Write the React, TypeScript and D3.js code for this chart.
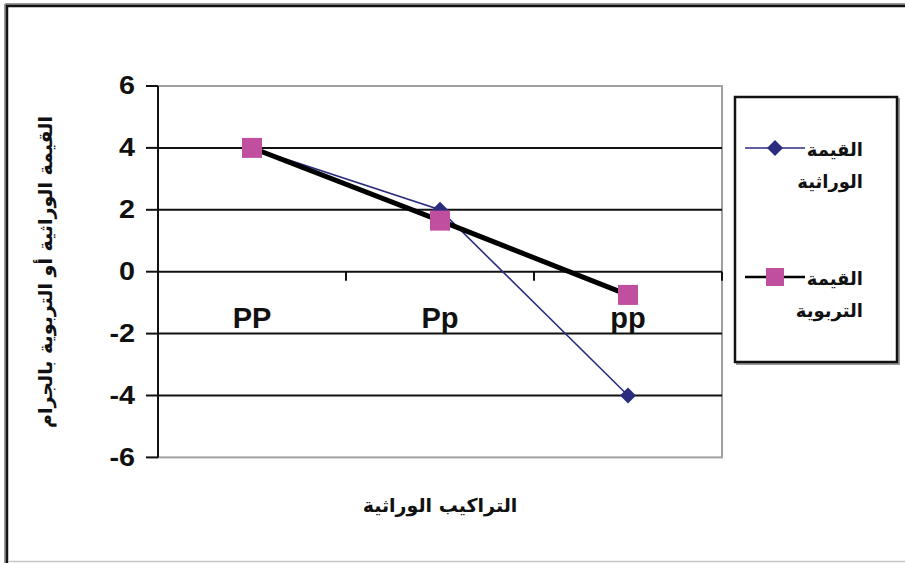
import React from 'react';
import * as d3 from 'd3';

const categories = ['PP', 'Pp', 'pp'];
const geneticValues = [4, 2, -4];
const breedingValues = [4, 1.65, -0.75];
const yTicks = [6, 4, 2, 0, -2, -4, -6];
const legendLabels = [
  ['القيمة', 'الوراثية'],
  ['القيمة', 'التربوية'],
];
const yTitle = 'القيمة الوراثية أو التربوية بالجرام';
const xTitle = 'التراكيب الوراثية';

const W = 905;
const H = 563;
const plot = { left: 158, right: 722, top: 86, bottom: 457.4 };
const NAVY = '#2b2c7e';
const PINK = '#c0509f';
const LATIN = '"Liberation Sans", Arial, sans-serif';
const ARABIC = '"DejaVu Sans", sans-serif';

export default function App() {
  const x = d3.scaleBand<string>().domain(categories).range([plot.left, plot.right]);
  const y = d3.scaleLinear().domain([-6, 6]).range([plot.bottom, plot.top]);
  const cx = (c: string) => (x(c) as number) + x.bandwidth() / 2;

  const line = d3
    .line<[string, number]>()
    .x((d) => cx(d[0]))
    .y((d) => y(d[1]));
  const genetic: [string, number][] = categories.map((c, i) => [c, geneticValues[i]]);
  const breeding: [string, number][] = categories.map((c, i) => [c, breedingValues[i]]);

  const diamond = (px: number, py: number, r: number) =>
    `M${px},${py - r}L${px + r},${py}L${px},${py + r}L${px - r},${py}Z`;
  const sq = 20;

  const boundaries = categories.map((c) => (x(c) as number) + x.bandwidth());

  const legendX1 = 745;
  const legendX2 = 805;
  const legendYs = [148, 277];

  return (
    <svg
      width={W}
      height={H}
      style={{ position: 'absolute', left: 0, top: 0, background: '#fff' }}
    >
      {/* outer frame */}
      <line x1={5} x2={W} y1={4} y2={4} stroke="#999" strokeWidth={2} />
      <line x1={6} x2={W} y1={6} y2={6} stroke="#111" strokeWidth={2.5} />
      <line x1={5} x2={5} y1={4} y2={H} stroke="#999" strokeWidth={2} />
      <line x1={7} x2={7} y1={5} y2={H} stroke="#111" strokeWidth={2.5} />
      <line x1={8} x2={W} y1={561.5} y2={561.5} stroke="#c8c8c8" strokeWidth={1.5} />

      {/* plot border (grey) */}
      <rect
        x={plot.left}
        y={plot.top}
        width={plot.right - plot.left}
        height={plot.bottom - plot.top}
        fill="none"
        stroke="#a0a0a0"
        strokeWidth={2}
      />

      {/* gridlines */}
      {yTicks
        .filter((t) => t !== 6 && t !== -6)
        .map((t) => (
          <line
            key={'g' + t}
            x1={plot.left}
            x2={plot.right}
            y1={y(t)}
            y2={y(t)}
            stroke="#111"
            strokeWidth={2}
          />
        ))}

      {/* y axis */}
      <line x1={plot.left} x2={plot.left} y1={plot.top} y2={plot.bottom} stroke="#111" strokeWidth={2} />
      {yTicks.map((t) => (
        <g key={'t' + t}>
          <line x1={plot.left - 12} x2={plot.left} y1={y(t)} y2={y(t)} stroke="#111" strokeWidth={2} />
          <text
            transform={`translate(135,${y(t)}) scale(1.15,1)`}
            textAnchor="end"
            dominantBaseline="central"
            fontFamily={LATIN}
            fontWeight="bold"
            fontSize={25}
            fill="#111"
          >
            {t}
          </text>
        </g>
      ))}

      {/* category tick marks at y=0 */}
      {boundaries.map((b, i) => (
        <line key={'b' + i} x1={b} x2={b} y1={y(0)} y2={y(0) + 9} stroke="#111" strokeWidth={2} />
      ))}

      {/* category labels */}
      {categories.map((c) => (
        <text
          key={'c' + c}
          x={cx(c)}
          y={328}
          textAnchor="middle"
          fontFamily={LATIN}
          fontWeight="bold"
          fontSize={29}
          fill="#111"
        >
          {c}
        </text>
      ))}

      {/* genetic series */}
      <path d={line(genetic) as string} fill="none" stroke={NAVY} strokeWidth={1.6} />
      {genetic.map((d, i) => (
        <path key={'d' + i} d={diamond(cx(d[0]), y(d[1]), 8)} fill={NAVY} />
      ))}

      {/* breeding series */}
      <path d={line(breeding) as string} fill="none" stroke="#000" strokeWidth={5} />
      {breeding.map((d, i) => (
        <rect
          key={'s' + i}
          x={cx(d[0]) - sq / 2}
          y={y(d[1]) - sq / 2}
          width={sq}
          height={sq}
          fill={PINK}
        />
      ))}

      {/* legend */}
      <rect x={737} y={99} width={162} height={265} fill="none" stroke="#999" strokeWidth={2} />
      <rect x={735} y={97} width={162} height={265} fill="#fff" stroke="#111" strokeWidth={2.5} />
      <line x1={legendX1} x2={legendX2} y1={legendYs[0]} y2={legendYs[0]} stroke={NAVY} strokeWidth={1.6} />
      <path d={diamond((legendX1 + legendX2) / 2, legendYs[0], 8)} fill={NAVY} />
      <line x1={legendX1} x2={legendX2} y1={legendYs[1]} y2={legendYs[1]} stroke="#000" strokeWidth={2.5} />
      <rect
        x={(legendX1 + legendX2) / 2 - 9}
        y={legendYs[1] - 9}
        width={18}
        height={18}
        fill={PINK}
      />
      {legendLabels.map((lines, i) =>
        lines.map((l, j) => (
          <text
            key={'l' + i + j}
            x={863}
            y={legendYs[i] + 8 + j * 32}
            textAnchor="end"
            fontFamily={ARABIC}
            fontWeight="bold"
            fontSize={18}
            fill="#111"
          >
            {l}
          </text>
        ))
      )}

      {/* axis titles */}
      <text
        x={440}
        y={512}
        textAnchor="middle"
        fontFamily={ARABIC}
        fontWeight="bold"
        fontSize={19}
        fill="#111"
      >
        {xTitle}
      </text>
      <text
        transform={`translate(52,272) rotate(-90)`}
        textAnchor="middle"
        fontFamily={ARABIC}
        fontWeight="bold"
        fontSize={19}
        fill="#111"
      >
        {yTitle}
      </text>
    </svg>
  );
}
